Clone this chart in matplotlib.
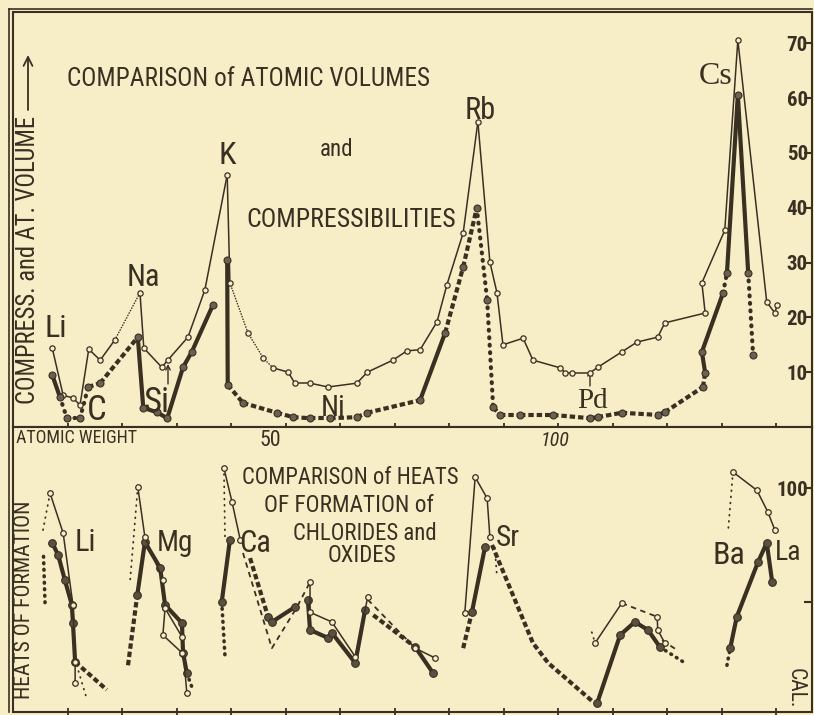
import matplotlib
matplotlib.use("Agg")
import matplotlib.pyplot as plt
from matplotlib import font_manager as fm

# ---------------- data (atomic weight on x) ----------------
# upper panel : atomic volume (thin line) and compressibility (heavy line)
av_x = [7.2, 9.2, 11.0, 12.3, 13.9, 16.0, 18.7, 23.3, 24.0, 27.3, 28.4, 32.1, 35.2, 39.3,
        39.8, 43.1, 45.9, 47.7, 50.5, 51.7, 54.5, 57.8, 63.1, 65.0, 69.7, 72.3, 74.7, 77.8,
        79.6, 82.6, 85.3, 87.5, 88.8, 89.9, 93.6, 95.4, 100.4, 101.3, 102.6, 105.9, 107.3,
        111.7, 114.5, 118.3, 119.6, 127.0, 126.4, 130.6, 133.0, 138.3, 139.8, 140.2]
av_y = [14.4, 5.8, 5.3, 4.0, 14.2, 12.2, 15.9, 24.5, 14.4, 10.9, 12.2, 16.4, 25.0, 46.0,
        26.3, 17.2, 12.6, 10.8, 10.0, 8.0, 8.0, 7.3, 8.0, 10.0, 12.2, 13.9, 14.1, 19.2,
        25.9, 35.4, 55.7, 30.1, 24.5, 15.0, 16.2, 12.2, 10.8, 9.9, 9.9, 9.9, 10.9,
        13.7, 15.5, 16.4, 19.0, 20.8, 26.3, 35.9, 70.6, 22.8, 20.8, 22.3]
av_seg = "ssssss" + "o" + "sssssss" + "ooo" + "s" * 34

cp_x = [7.2, 8.6, 9.9, 12.3, 13.8, 16.0, 22.9, 23.9, 26.4, 28.3, 31.2, 32.8, 36.7, 39.3,
        39.4, 42.2, 48.4, 51.4, 54.5, 58.2, 63.1, 65.0, 74.7, 79.3, 82.6, 85.1, 87.0, 88.1,
        89.4, 93.0, 99.1, 105.9, 107.3, 111.7, 118.3, 119.6, 126.6, 127.0, 126.4, 130.3,
        131.0, 133.0, 134.9, 135.8]
cp_y = [9.5, 5.5, 1.6, 1.6, 7.3, 8.0, 16.4, 3.5, 2.7, 1.6, 10.9, 13.7, 22.3, 30.5,
        7.7, 4.4, 2.6, 1.8, 1.6, 1.6, 1.8, 2.6, 4.9, 17.2, 29.2, 40.0, 23.2, 3.6,
        2.2, 2.2, 2.2, 1.6, 1.8, 2.6, 2.2, 2.7, 7.3, 9.9, 13.7, 24.5,
        28.1, 60.6, 28.1, 13.1]
cp_seg = "sooodd" + "ssssss" + "g" + "s" + "dddddddd" + "s" + "dd" + "oo" + "dddddddddd" + "ss" + "o" + "ss" + "o"

top_labels = ["Li", "C", "Na", "Si", "K", "Rb", "Ni", "Pd", "Cs"]
top_lab_x = [7.9, 15.4, 23.9, 26.4, 39.3, 85.7, 58.7, 106.4, 129.0]
top_lab_y = [17.9, 3.1, 27.2, 4.4, 49.6, 57.7, 3.5, 4.7, 63.9]
top_lab_size = [23, 25, 22, 25, 23, 22, 21, 21, 23]

top_yticks = [10, 20, 30, 40, 50, 60, 70]
x_ticks = [10, 20, 30, 40, 50, 60, 70, 80, 90, 100, 110, 120, 130, 140]

# lower panel : heats of formation (chlorides thin, oxides heavy), calories
li_cl_x, li_cl_y = [6.8, 9.2, 11.0, 11.4, 11.4], [99.1, 92.1, 79.5, 69.5, 65.8]
li_ox_x, li_ox_y = [7.2, 8.3, 9.5, 10.8, 11.0, 11.4], [90.4, 88.2, 83.9, 79.5, 76.3, 69.5]
li_tail_x, li_tail_y = [11.4, 17.2], [69.5, 64.6]
li_lead_x, li_lead_y = [6.8, 5.5], [99.1, 92.6]
li_lead2_x, li_lead2_y = [5.6, 5.9], [88.0, 79.1]
li_dot_x, li_dot_y = [11.7, 13.6], [68.9, 62.8]

mg_cl_x, mg_cl_y = [22.9, 24.2, 27.5, 27.9, 31.0, 31.9], [100.2, 91.4, 83.9, 78.9, 73.9, 64.0]
mg_cl2_x, mg_cl2_y = [27.9, 27.5, 31.0], [78.9, 74.2, 71.1]
mg_ox_x, mg_ox_y = [22.8, 24.2, 27.0, 27.9, 31.0, 31.2, 31.9], [81.2, 90.5, 86.0, 79.5, 76.3, 71.1, 67.5]
mg_lead_x, mg_lead_y = [21.1, 22.8], [68.9, 81.2]
mg_dot_x, mg_dot_y = [22.9, 21.5], [100.2, 83.9]
mg_tail_x, mg_tail_y = [31.9, 33.0], [67.5, 64.6]

ca_cl_x, ca_cl_y = [38.7, 40.2, 41.7], [103.5, 97.5, 90.9]
ca_cld_x, ca_cld_y = [42.2, 47.5, 52.1, 54.5], [88.6, 71.9, 79.1, 83.5]
ca_ox_x, ca_ox_y = [38.3, 39.8], [80.0, 90.9]
ca_oxd_x, ca_oxd_y = [43.5, 46.8], [87.7, 77.4]
ca_ox2_x, ca_ox2_y = [46.8, 47.5, 51.7], [77.4, 76.5, 79.1]
ca_dot_x, ca_dot_y = [38.7, 38.9], [103.5, 91.4]
ca_oxdot_x, ca_oxdot_y = [38.3, 38.9], [80.0, 70.4]

ti_cl_x, ti_cl_y = [54.5, 54.5, 58.5, 62.8, 65.1], [83.5, 78.2, 76.5, 70.4, 80.9]
ti_ox_x, ti_ox_y = [54.1, 54.5, 57.8, 58.5, 62.8, 64.6], [80.4, 75.1, 73.7, 74.6, 69.3, 78.6]
ti_oxd_x, ti_oxd_y = [66.1, 73.8], [77.7, 72.1]
ti_oxe_x, ti_oxe_y = [73.8, 77.1], [72.1, 67.5]
ti_cld_x, ti_cld_y = [65.1, 73.8], [80.4, 71.9]
ti_cle_x, ti_cle_y = [73.8, 77.4], [71.9, 70.2]

sr_cl_x, sr_cl_y = [82.9, 84.8, 87.0, 87.5], [78.1, 101.9, 98.2, 91.4]
sr_ox_x, sr_ox_y = [84.2, 86.6], [78.2, 89.6]
sr_oxd_x, sr_oxd_y = [82.6, 84.2], [71.9, 78.2]
sr_dot_x, sr_dot_y = [88.4, 88.8], [89.6, 84.4]
sr_oxd2_x, sr_oxd2_y = [87.9, 95.4, 98.2, 106.4], [90.0, 72.8, 69.3, 62.5]

pd_ox_x, pd_ox_y = [107.2, 111.4, 114.1, 116.5, 118.7], [62.3, 74.2, 76.5, 75.1, 72.1]
pd_oxdot_x, pd_oxdot_y = [118.7, 123.3], [72.1, 69.3]
pd_cl_x, pd_cl_y = [106.8, 111.7], [72.8, 79.8]
pd_cld_x, pd_cld_y = [111.7, 118.2], [79.8, 77.4]
pd_cl2_x, pd_cl2_y = [118.2, 118.3, 119.6], [77.4, 75.1, 72.8]
pd_cldot_x, pd_cldot_y = [106.2, 106.8], [74.7, 72.8]
pd_cld2_x, pd_cld2_y = [119.1, 121.8], [73.3, 71.6]

ba_cl_x, ba_cl_y = [132.1, 136.5, 138.5, 139.8], [102.8, 99.6, 95.8, 92.6]
ba_cldot_x, ba_cldot_y = [132.1, 131.2], [102.8, 92.3]
ba_ox_x, ba_ox_y = [131.6, 132.8, 136.7, 138.3, 139.3], [71.9, 77.4, 87.0, 90.4, 83.5]
ba_oxdot_x, ba_oxdot_y = [131.0, 131.6], [68.9, 71.9]

bot_labels = ["Li", "Mg", "Ca", "Sr", "Ba", "La"]
bot_lab_x = [13.2, 29.7, 44.4, 90.8, 131.4, 142.2]
bot_lab_y = [90.4, 90.4, 90.2, 91.2, 88.1, 88.6]
bot_lab_size = [22, 21, 22, 21, 23, 20]
bot_yticks = [80, 100]
bot_yticklabels = ["", "100"]

# ---------------- style ----------------
BG = "#f7eec8"
INK = "#3a3022"
W, H = 814, 715


def pick_font():
    for fam in ["Liberation Sans Narrow", "Roboto Condensed", "DejaVu Sans Condensed"]:
        try:
            fm.findfont(fm.FontProperties(family=fam), fallback_to_default=False)
            return fam
        except Exception:
            pass
    return "Liberation Sans"


FONT = pick_font()
plt.rcParams["font.family"] = [FONT, "DejaVu Sans"]

fig = plt.figure(figsize=(W / 100, H / 100), dpi=100, facecolor=BG)


def fx(px):
    return px / W


def fy(py):
    return 1 - py / H


ax1 = fig.add_axes([fx(13), fy(427), fx(812) - fx(13), fy(12) - fy(427)], facecolor=BG)
ax2 = fig.add_axes([fx(13), fy(712), fx(812) - fx(13), fy(427) - fy(712)], facecolor=BG)

XMAX = (812 - 13) / 5.45
ax1.set_xlim(0, XMAX)
ax2.set_xlim(0, XMAX)
ax1.set_ylim(0, (427 - 12) / 5.48)
ax2.set_ylim(100 - (712 - 488) / 5.7, 100 + (488 - 427) / 5.7)

for ax in (ax1, ax2):
    for sp in ax.spines.values():
        sp.set_color(INK)
        sp.set_linewidth(1.5)
    ax.set_xticks(x_ticks)
    ax.tick_params(axis="x", direction="inout", length=6, width=1.3, color=INK,
                   labelbottom=False, top=False)
    ax.yaxis.tick_right()

ax1.set_yticks(top_yticks)
ax2.set_yticks(bot_yticks)
ax2.set_yticklabels(bot_yticklabels)
for ax in (ax1, ax2):
    ax.tick_params(axis="y", direction="in", length=6, width=1.5, color=INK, pad=-3,
                   labelsize=15, labelcolor=INK)
    for t in ax.yaxis.get_majorticklabels():
        t.set_horizontalalignment("right")
        t.set_fontweight("bold")

# double frame lines (outer rule) on left and top
fig.add_artist(plt.Line2D([fx(9), fx(9)], [fy(9), fy(712)], color=INK, lw=1.2))
fig.add_artist(plt.Line2D([fx(9), fx(812)], [fy(9), fy(9)], color=INK, lw=1.2))

LS = {"s": "-", "d": (0, (1.3, 0.7)), "o": (0, (0.2, 1.6))}


def styled(ax, xs, ys, seg, lw):
    for i, c in enumerate(seg):
        if c == "g":
            continue
        ax.plot(xs[i:i + 2], ys[i:i + 2], color=INK, lw=lw, ls=LS[c],
                solid_capstyle="round", dash_capstyle="round" if c == "o" else "butt",
                zorder=3)


styled(ax1, av_x, av_y, av_seg, 1.1)
ax1.plot(av_x, av_y, "o", ms=3.8, mfc=BG, mec=INK, mew=0.9, zorder=5)
styled(ax1, cp_x, cp_y, cp_seg, 3.0)
ax1.plot(cp_x, cp_y, "o", ms=5, mfc="#6b6150", mec=INK, mew=0.8, zorder=5)

KIND = {
    "thin": dict(lw=1.1, ls="-", marker="o", ms=4, mfc=BG, mec=INK, mew=0.9),
    "thick": dict(lw=3.0, ls="-", marker="o", ms=5.5, mfc="#5a503f", mec=INK, mew=0.8,
                  solid_capstyle="round"),
    "thickdash": dict(lw=3.0, ls=(0, (1.3, 0.7))),
    "thickdot": dict(lw=2.6, ls=(0, (0.2, 1.6)), dash_capstyle="round"),
    "thindash": dict(lw=1.3, ls=(0, (3, 2.5))),
    "thindot": dict(lw=1.3, ls=(0, (0.4, 3)), dash_capstyle="round"),
}

strokes = [
    (li_lead_x, li_lead_y, "thindot"), (li_lead2_x, li_lead2_y, "thickdot"),
    (li_tail_x, li_tail_y, "thickdash"), (li_dot_x, li_dot_y, "thindot"),
    (li_ox_x, li_ox_y, "thick"), (li_cl_x, li_cl_y, "thin"),
    (mg_lead_x, mg_lead_y, "thickdash"), (mg_dot_x, mg_dot_y, "thindot"),
    (mg_tail_x, mg_tail_y, "thickdot"), (mg_ox_x, mg_ox_y, "thick"),
    (mg_cl_x, mg_cl_y, "thin"), (mg_cl2_x, mg_cl2_y, "thin"),
    (ca_dot_x, ca_dot_y, "thindot"), (ca_oxdot_x, ca_oxdot_y, "thickdot"),
    (ca_cld_x, ca_cld_y, "thindash"), (ca_oxd_x, ca_oxd_y, "thickdash"),
    (ca_ox_x, ca_ox_y, "thick"), (ca_ox2_x, ca_ox2_y, "thick"), (ca_cl_x, ca_cl_y, "thin"),
    (ti_oxd_x, ti_oxd_y, "thickdash"), (ti_cld_x, ti_cld_y, "thindash"),
    (ti_ox_x, ti_ox_y, "thick"), (ti_oxe_x, ti_oxe_y, "thick"),
    (ti_cl_x, ti_cl_y, "thin"), (ti_cle_x, ti_cle_y, "thin"),
    (sr_oxd_x, sr_oxd_y, "thickdash"), (sr_oxd2_x, sr_oxd2_y, "thickdash"),
    (sr_dot_x, sr_dot_y, "thindot"), (sr_ox_x, sr_ox_y, "thick"), (sr_cl_x, sr_cl_y, "thin"),
    (pd_oxdot_x, pd_oxdot_y, "thickdot"), (pd_ox_x, pd_ox_y, "thick"),
    (pd_cldot_x, pd_cldot_y, "thindot"), (pd_cld_x, pd_cld_y, "thindash"),
    (pd_cld2_x, pd_cld2_y, "thindash"), (pd_cl_x, pd_cl_y, "thin"), (pd_cl2_x, pd_cl2_y, "thin"),
    (ba_cldot_x, ba_cldot_y, "thindot"), (ba_oxdot_x, ba_oxdot_y, "thickdot"),
    (ba_ox_x, ba_ox_y, "thick"), (ba_cl_x, ba_cl_y, "thin"),
]
for xs, ys, kind in strokes:
    ax2.plot(xs, ys, color=INK, zorder=4, **KIND[kind])

# ---------------- text ----------------
R = fig.canvas.get_renderer()


def fit(t, target, along="w", cap=None):
    bb = t.get_window_extent(R)
    cur = bb.width if along == "w" else bb.height
    if cur > 0:
        size = t.get_fontsize() * target / cur
        if cap is not None:
            size = min(0.5 * (size + cap), 1.08 * size)
        t.set_fontsize(size)
    return t


def ftext(px, py, s, width, cap=None, rot=0, along="w", **kw):
    t = fig.text(fx(px), fy(py), s, ha="center", va="center", color=INK,
                 rotation=rot, fontsize=14, **kw)
    return fit(t, width, along, cap)


for s, x, y, sz in zip(top_labels, top_lab_x, top_lab_y, top_lab_size):
    fam = ["Liberation Serif", "DejaVu Serif"] if s in ("Cs", "Pd") else None
    ax1.text(x, y, s, ha="center", va="center", color=INK, fontsize=sz,
             family=fam, zorder=6)

for s, x, y, sz in zip(bot_labels, bot_lab_x, bot_lab_y, bot_lab_size):
    ax2.text(x, y, s, ha="center", va="center", color=INK, fontsize=sz, zorder=6)

ftext(248, 79, "COMPARISON of ATOMIC VOLUMES", 370, 18)
ftext(337, 150, "and", 33, 17)
ftext(351, 220, "COMPRESSIBILITIES", 203, 19)
ftext(28, 260, "COMPRESS. and AT. VOLUME", 300, 17, rot=90, along="h")
ftext(25, 600, "HEATS OF FORMATION", 195, 16, rot=90, along="h")
ftext(76, 438, "ATOMIC WEIGHT", 113, 15)
ftext(270, 440, "50", 24, 14)
ftext(555, 441, "100", 30, 14, style="italic")
ftext(350, 477, "COMPARISON of HEATS", 235, 15)
ftext(349, 505, "OF FORMATION of", 188, 15)
ftext(365, 534, "CHLORIDES and", 156, 15)
ftext(362, 556, "OXIDES", 75, 15)
ftext(795, 688, "CAL.", 40, 16, rot=270, along="h")


def arrow(p0, p1, scale=14, lw=1.3):
    ax1.annotate("", xy=(fx(p1[0]), fy(p1[1])), xycoords="figure fraction",
                 xytext=(fx(p0[0]), fy(p0[1])), textcoords="figure fraction",
                 arrowprops=dict(arrowstyle="->", color=INK, lw=lw, mutation_scale=scale,
                                 shrinkA=0, shrinkB=0), annotation_clip=False)


arrow((28, 110), (28, 55), 16)
arrow((42, 508), (42, 455), 16)
arrow((135, 438), (252, 438), 22)
arrow((168, 384), (168, 364), 8, 1.0)
arrow((590, 386), (590, 370), 8, 1.0)
arrow((72, 543), (63, 543), 7, 0.9)
arrow((154, 543), (147, 543), 7, 0.9)

fig.savefig("out.png", dpi=100, facecolor=BG)
